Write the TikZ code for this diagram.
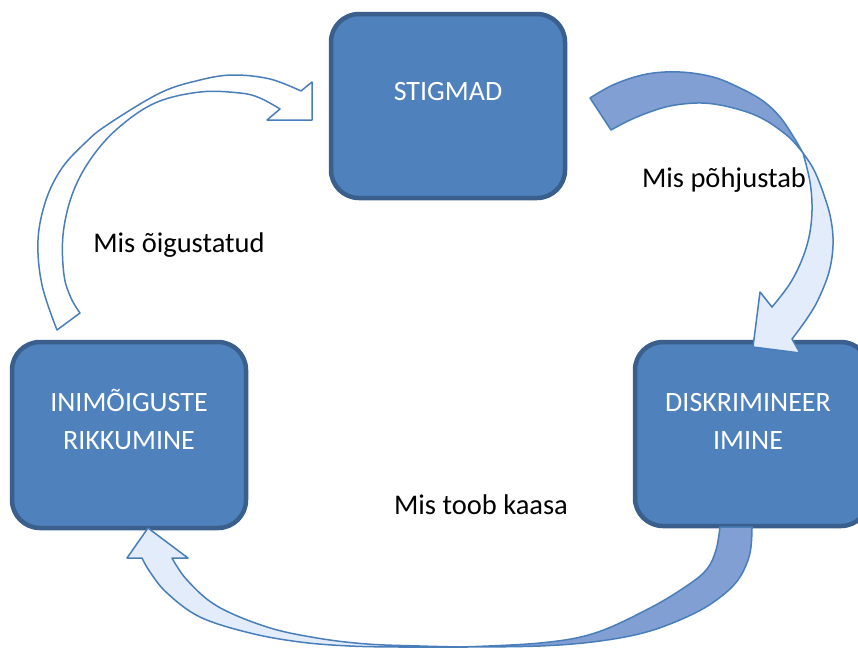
\documentclass[tikz,border=0pt]{standalone}
\usepackage{fontspec}
\setmainfont{Carlito}
\definecolor{boxfill}{HTML}{4F81BD}
\definecolor{boxline}{HTML}{3A5F8C}
\definecolor{arrline}{HTML}{4A7EBB}
\definecolor{darkarrow}{HTML}{819FD2}
\definecolor{lightarrow}{HTML}{E2ECFB}
\tikzset{
  box/.style={draw=boxline, fill=boxfill, line width=4.5pt, rounded corners=28pt,
    minimum width=234pt, minimum height=186pt, inner sep=0pt},
  boxtext/.style={text=white, font=\fontsize{28}{33}\selectfont, anchor=base, inner sep=0pt},
  lab/.style={text=black, font=\fontsize{28.5}{33}\selectfont, anchor=base, inner sep=0pt},
  arrowline/.style={draw=arrline, line width=1.5pt, line join=round},
}
\begin{document}
\begin{tikzpicture}[x=1pt, y=-1pt]
\useasboundingbox[fill=white] (0,0) rectangle (858,648);

% boxes
\node[box, minimum height=184pt] (stig) at (448,106) {};
\node[box] (inim) at (129,435) {};
\node[box, minimum height=184pt] (disk) at (752,434) {};

\node[boxtext] (stigt) at (448,100) {STIGMAD};
\node[boxtext] (inimt1) at (129,411) {INIMÕIGUSTE};
\node[boxtext] (inimt2) at (129,449) {RIKKUMINE};
\node[boxtext] (diskt1) at (748,411) {DISKRIMINEER};
\node[boxtext] (diskt2) at (748,449) {IMINE};

% arrow 1: from INIMOIGUSTE up to STIGMAD
\draw[arrowline, fill=white]
  plot[smooth, tension=0.6] coordinates {(57,330) (42,285) (38,240) (46,200) (62,168) (85,143) (107,125) (160,93) (200,80) (233,75) (270,79) (301,91)}
  -- (312,82) -- (312,120) -- (267,120) -- (280,109)
  -- plot[smooth, tension=0.6] coordinates {(280,109) (260,98) (240,93) (200,92) (155,103) (117,129) (90,160) (72,195) (63,235) (64,275) (71,298) (80,313)}
  -- cycle;

% arrow 2: from STIGMAD to DISKRIMINEERIMINE
\draw[arrowline, fill=darkarrow]
  plot[smooth, tension=0.6] coordinates {(590,98) (615,84) (647,74) (680,72) (713,77) (740,88) (763,101) (780,117) (793,136) (803,153)}
  -- plot[smooth, tension=0.6] coordinates {(803,153) (792,140) (780,130) (765,120) (747,112) (720,105) (697,103) (670,106) (647,113) (628,121) (611,130)}
  -- cycle;
\draw[arrowline, fill=lightarrow]
  plot[smooth, tension=0.6] coordinates {(803,153) (814,170) (824,195) (831,220) (833,245) (829,272) (818,300) (806,320) (792,339)}
  -- (800,353) -- (753,347) -- (760,292) -- (772,307)
  -- plot[smooth, tension=0.6] coordinates {(772,307) (789,285) (801,262) (809,237) (812,210) (810,182) (803,153)}
  -- cycle;

% arrow 3: from DISKRIMINEERIMINE to INIMOIGUSTE
\draw[arrowline, fill=darkarrow]
  plot[smooth, tension=0.6] coordinates {(752,527) (750,553) (740,577) (723,595) (695,613) (650,631) (600,641) (540,646) (460,647)}
  -- plot[smooth, tension=0.6] coordinates {(460,647) (540,643) (595,633) (650,608) (688,585) (707,569) (716,550) (720,527)}
  -- cycle;
\draw[arrowline, fill=lightarrow]
  plot[smooth, tension=0.6] coordinates {(460,647) (400,647) (350,646) (300,642) (250,633) (200,617) (167,593) (150,572) (142,558)}
  -- (127,558) -- (148,528) -- (188,558) -- (172,558)
  -- plot[smooth, tension=0.6] coordinates {(172,558) (187,580) (217,606) (267,627) (317,638) (367,644) (420,646) (460,647)}
  -- cycle;

% labels
\node[lab] (l1) at (179,252) {Mis õigustatud};
\node[lab] (l2) at (724,187) {Mis põhjustab};
\node[lab] (l3) at (481,514) {Mis toob kaasa};
\end{tikzpicture}
\end{document}
